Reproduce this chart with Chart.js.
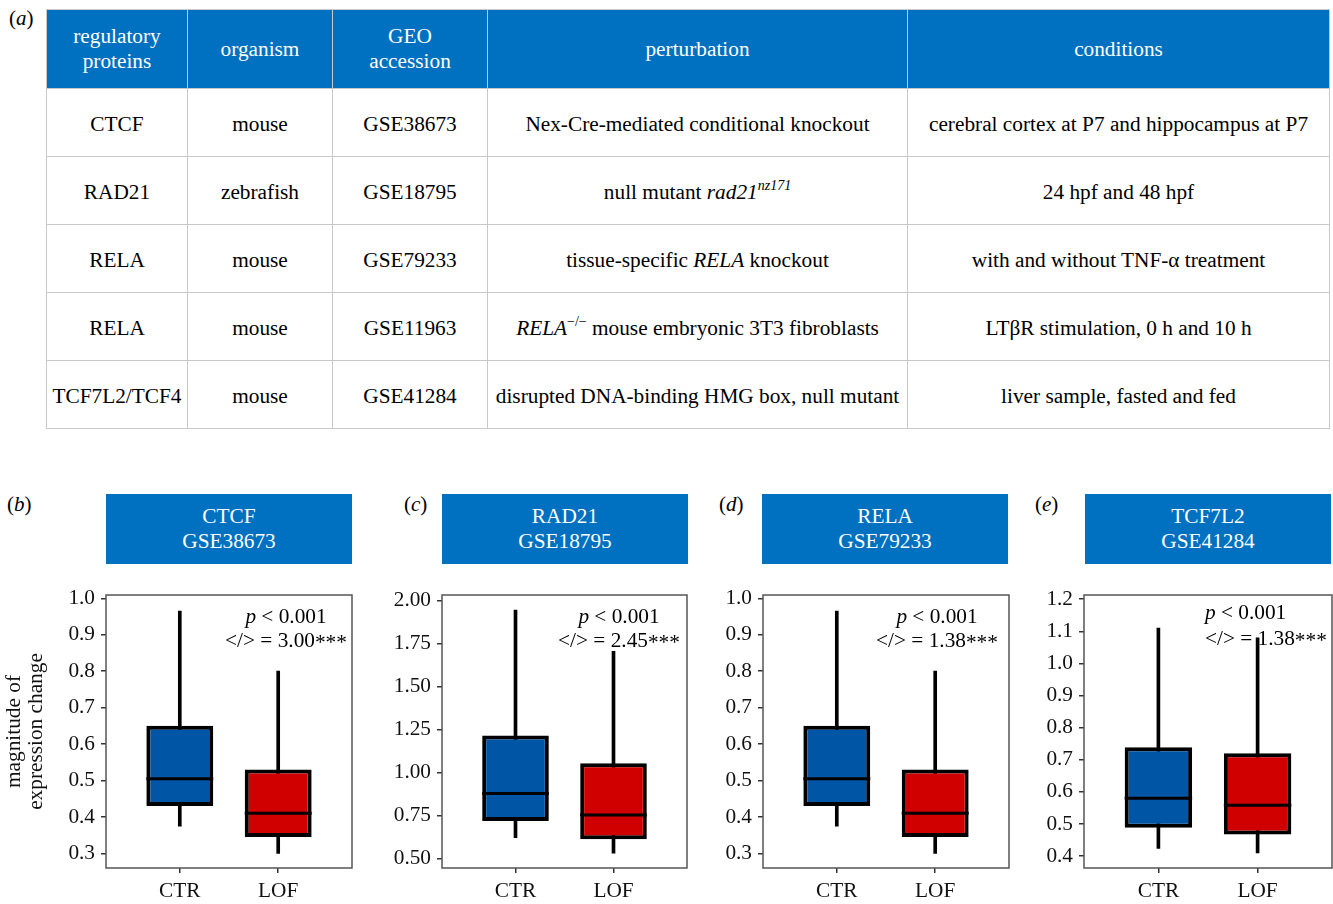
<!DOCTYPE html>
<html lang="en">
<head>
<meta charset="UTF-8">
<title>Regulatory proteins: expression change, CTR vs LOF</title>
<script src="https://cdn.jsdelivr.net/npm/chart.js"></script>
<style>
    body, html {
        margin: 0;
        padding: 0;
        width: 1333px;
        height: 904px;
        overflow: hidden;
        background: #fff;
        font-family: "Liberation Serif", "DejaVu Serif", serif;
    }
    .lbl { position: absolute; font-size: 21px; color: #000; }
    table {
        position: absolute;
        left: 46px;
        top: 9px;
        width: 1284px;
        border-collapse: collapse;
        table-layout: fixed;
        font-size: 21.3px;
    }
    td, th {
        border: 1.5px solid #c8c8c8;
        text-align: center;
        padding: 0 2px;
        font-weight: normal;
        line-height: 25px;
        white-space: nowrap;
    }
    th { background: #0070c0; color: #fff; height: 78px; }
    td { height: 64px; padding-top: 3px; }
    sup { font-size: 14px; line-height: 0; vertical-align: 9px; }
    .ttl {
        position: absolute;
        top: 494px;
        width: 246px;
        height: 70px;
        background: #0070c0;
        color: #fff;
        font-size: 21.3px;
        line-height: 25px;
        text-align: center;
        display: flex;
        align-items: center;
        justify-content: center;
    }
    canvas { position: absolute; top: 575px; }
</style>
</head>
<body>
<div class="lbl" style="left:9px;top:6px">(<i>a</i>)</div>
<table>
    <colgroup>
        <col style="width:141px"><col style="width:145px"><col style="width:155px"><col style="width:420px"><col style="width:422px">
    </colgroup>
    <tr><th>regulatory<br>proteins</th><th>organism</th><th>GEO<br>accession</th><th>perturbation</th><th>conditions</th></tr>
    <tr><td>CTCF</td><td>mouse</td><td>GSE38673</td><td>Nex-Cre-mediated conditional knockout</td><td>cerebral cortex at P7 and hippocampus at P7</td></tr>
    <tr><td>RAD21</td><td>zebrafish</td><td>GSE18795</td><td>null mutant <i>rad21<sup>nz171</sup></i></td><td>24 hpf and 48 hpf</td></tr>
    <tr><td>RELA</td><td>mouse</td><td>GSE79233</td><td>tissue-specific <i>RELA</i> knockout</td><td>with and without TNF-α treatment</td></tr>
    <tr><td>RELA</td><td>mouse</td><td>GSE11963</td><td><i>RELA</i><sup>−/−</sup> mouse embryonic 3T3 fibroblasts</td><td>LTβR stimulation, 0 h and 10 h</td></tr>
    <tr><td>TCF7L2/TCF4</td><td>mouse</td><td>GSE41284</td><td>disrupted DNA-binding HMG box, null mutant</td><td>liver sample, fasted and fed</td></tr>
</table>

<div class="lbl" style="left:7px;top:492px">(<i>b</i>)</div>
<div class="lbl" style="left:404px;top:492px">(<i>c</i>)</div>
<div class="lbl" style="left:719px;top:492px">(<i>d</i>)</div>
<div class="lbl" style="left:1035px;top:492px">(<i>e</i>)</div>
<div class="ttl" style="left:106px">CTCF<br>GSE38673</div>
<div class="ttl" style="left:442px">RAD21<br>GSE18795</div>
<div class="ttl" style="left:762px">RELA<br>GSE79233</div>
<div class="ttl" style="left:1085px">TCF7L2<br>GSE41284</div>

<canvas id="chartB" width="360" height="329" style="left:0px"></canvas>
<canvas id="chartC" width="320" height="329" style="left:380px"></canvas>
<canvas id="chartD" width="320" height="329" style="left:700px"></canvas>
<canvas id="chartE" width="313" height="329" style="left:1020px"></canvas>

<script>
    const groups = ['CTR', 'LOF'];

    // CTCF GSE38673
    const ctcfMin = [0.375, 0.30];
    const ctcfQ1 = [0.43, 0.345];
    const ctcfMed = [0.505, 0.41];
    const ctcfQ3 = [0.65, 0.53];
    const ctcfMax = [0.965, 0.80];
    const ctcfTicks = [0.3, 0.4, 0.5, 0.6, 0.7, 0.8, 0.9, 1.0];

    // RAD21 GSE18795
    const rad21Min = [0.62, 0.53];
    const rad21Q1 = [0.717, 0.612];
    const rad21Med = [0.878, 0.752];
    const rad21Q3 = [1.215, 1.053];
    const rad21Max = [1.945, 1.705];
    const rad21Ticks = [0.5, 0.75, 1.0, 1.25, 1.5, 1.75, 2.0];

    // RELA GSE79233
    const relaMin = [0.375, 0.30];
    const relaQ1 = [0.43, 0.345];
    const relaMed = [0.505, 0.41];
    const relaQ3 = [0.65, 0.53];
    const relaMax = [0.965, 0.80];
    const relaTicks = [0.3, 0.4, 0.5, 0.6, 0.7, 0.8, 0.9, 1.0];

    // TCF7L2 GSE41284
    const tcfMin = [0.424, 0.41];
    const tcfQ1 = [0.488, 0.467];
    const tcfMed = [0.58, 0.558];
    const tcfQ3 = [0.739, 0.72];
    const tcfMax = [1.11, 1.08];
    const tcfTicks = [0.4, 0.5, 0.6, 0.7, 0.8, 0.9, 1.0, 1.1, 1.2];

    const ratios = ['3.00', '2.45', '1.38', '1.38'];

    const boxColors = ['#0055a5', '#d00000'];
    const serif = '"Liberation Serif", serif';
    const fontPx = 21.3;

    // whiskers are a thin floating bar, the box another floating bar; median drawn here
    const medianPlugin = {
        id: 'median',
        afterDatasetsDraw(chart, args, opts) {
            const meta = chart.getDatasetMeta(1);
            const y = chart.scales.y;
            const ctx = chart.ctx;
            ctx.save();
            ctx.strokeStyle = '#000';
            ctx.lineWidth = 3;
            meta.data.forEach((bar, i) => {
                const py = y.getPixelForValue(opts.values[i]);
                ctx.beginPath();
                ctx.moveTo(bar.x - bar.width / 2, py);
                ctx.lineTo(bar.x + bar.width / 2, py);
                ctx.stroke();
            });
            ctx.restore();
        }
    };

    const framePlugin = {
        id: 'frame',
        afterDraw(chart) {
            const {ctx, chartArea: a} = chart;
            ctx.save();
            ctx.strokeStyle = '#555';
            ctx.lineWidth = 1.5;
            ctx.strokeRect(a.left, a.top, a.right - a.left, a.bottom - a.top);
            ctx.restore();
        }
    };

    const notePlugin = {
        id: 'note',
        beforeDatasetsDraw(chart, args, opts) {
            const {ctx, chartArea: a} = chart;
            ctx.save();
            ctx.fillStyle = '#000';
            ctx.textBaseline = 'alphabetic';
            const big = fontPx + 'px ' + serif;
            const ital = 'italic ' + fontPx + 'px ' + serif;
            const l1a = 'p', l1b = ' < 0.001';
            const l2a = '</> = ' + opts.ratio, l2b = '***';
            ctx.font = ital; const w1a = ctx.measureText(l1a).width;
            ctx.font = big; const w1b = ctx.measureText(l1b).width;
            const w2a = ctx.measureText(l2a).width;
            const w2b = ctx.measureText(l2b).width;
            const x0 = a.left + opts.x;
            const y1 = a.top + opts.y1, y2 = a.top + opts.y2;
            let s1 = x0, s2 = x0;
            if (opts.align === 'center') {
                s1 = x0 - (w1a + w1b) / 2;
                s2 = x0 - (w2a + w2b) / 2;
            }
            ctx.font = ital; ctx.fillText(l1a, s1, y1);
            ctx.font = big; ctx.fillText(l1b, s1 + w1a, y1);
            ctx.fillText(l2a, s2, y2);
            ctx.fillText(l2b, s2 + w2a, y2 + 2);
            ctx.restore();
        }
    };

    function makePanel(id, p) {
        const whiskers = groups.map((g, i) => ({x: i, y: [p.min[i], p.max[i]]}));
        const boxes = groups.map((g, i) => ({x: i, y: [p.q1[i], p.q3[i]]}));
        new Chart(document.getElementById(id), {
            type: 'bar',
            data: {
                datasets: [
                    {
                        label: 'whisker',
                        data: whiskers,
                        backgroundColor: '#000',
                        borderWidth: 0,
                        barThickness: 3,
                        grouped: false,
                        order: 2
                    },
                    {
                        label: 'box',
                        data: boxes,
                        backgroundColor: boxColors,
                        borderColor: '#000',
                        borderWidth: 4,
                        borderSkipped: false,
                        barPercentage: 0.68,
                        categoryPercentage: 1,
                        grouped: false,
                        order: 1
                    }
                ]
            },
            options: {
                responsive: false,
                animation: false,
                layout: { padding: { top: 20, right: p.padRight, left: 0, bottom: 0 } },
                scales: {
                    x: {
                        type: 'linear',
                        min: -0.75,
                        max: 1.75,
                        offset: false,
                        afterBuildTicks: s => { s.ticks = groups.map((g, i) => ({value: i})); },
                        afterFit: s => { s.height = 36; },
                        grid: { drawOnChartArea: false, drawTicks: true, tickLength: 5, color: '#333', lineWidth: 1.5, offset: false },
                        border: { display: false },
                        ticks: {
                            callback: v => groups[v],
                            font: { family: serif, size: fontPx },
                            color: '#111',
                            padding: 6,
                            maxRotation: 0
                        }
                    },
                    y: {
                        min: p.yMin,
                        max: p.yMax,
                        afterBuildTicks: s => { s.ticks = p.ticks.map(v => ({value: v})); },
                        afterFit: s => { s.width = p.yWidth; },
                        grid: { drawOnChartArea: false, drawTicks: true, tickLength: 5, color: '#333', lineWidth: 1.5 },
                        border: { display: false },
                        ticks: {
                            callback: v => v.toFixed(p.decimals),
                            font: { family: serif, size: fontPx },
                            color: '#111',
                            padding: 6
                        },
                        title: {
                            display: !!p.title,
                            text: p.title,
                            font: { family: serif, size: fontPx, lineHeight: 1.05 },
                            color: '#111',
                            padding: { top: 3, bottom: 0 }
                        }
                    }
                },
                plugins: {
                    legend: { display: false },
                    tooltip: { enabled: false },
                    median: { values: p.med },
                    note: { ratio: p.ratio, x: p.noteX, y1: p.noteY1, y2: p.noteY2, align: p.noteAlign }
                }
            },
            plugins: [medianPlugin, framePlugin, notePlugin]
        });
    }

    makePanel('chartB', {
        min: ctcfMin, q1: ctcfQ1, med: ctcfMed, q3: ctcfQ3, max: ctcfMax, ticks: ctcfTicks,
        yMin: 0.26, yMax: 1.009, decimals: 1, yWidth: 106, padRight: 8,
        title: ['magnitude of', 'expression change'],
        ratio: ratios[0], noteX: 180, noteY1: 28, noteY2: 52, noteAlign: 'center'
    });
    makePanel('chartC', {
        min: rad21Min, q1: rad21Q1, med: rad21Med, q3: rad21Q3, max: rad21Max, ticks: rad21Ticks,
        yMin: 0.444, yMax: 2.033, decimals: 2, yWidth: 62, padRight: 13,
        ratio: ratios[1], noteX: 177, noteY1: 28, noteY2: 52, noteAlign: 'center'
    });
    makePanel('chartD', {
        min: relaMin, q1: relaQ1, med: relaMed, q3: relaQ3, max: relaMax, ticks: relaTicks,
        yMin: 0.26, yMax: 1.009, decimals: 1, yWidth: 63, padRight: 11,
        ratio: ratios[2], noteX: 174, noteY1: 28, noteY2: 52, noteAlign: 'center'
    });
    makePanel('chartE', {
        min: tcfMin, q1: tcfQ1, med: tcfMed, q3: tcfQ3, max: tcfMax, ticks: tcfTicks,
        yMin: 0.363, yMax: 1.213, decimals: 1, yWidth: 64, padRight: 1,
        ratio: ratios[3], noteX: 121, noteY1: 24, noteY2: 50, noteAlign: 'left'
    });
</script>
</body>
</html>
